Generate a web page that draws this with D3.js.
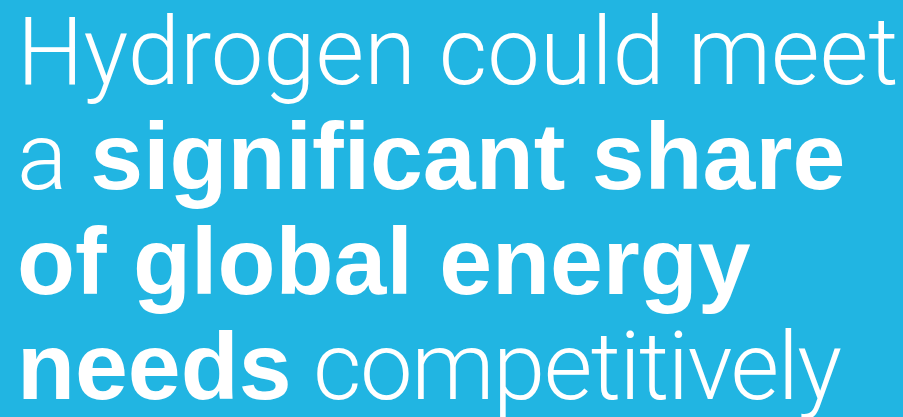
<!DOCTYPE html>
<html><head><meta charset="utf-8">
<script src="https://cdn.jsdelivr.net/npm/d3@7"></script>
<style>html,body{margin:0;padding:0;background:#21b5e2;overflow:hidden}</style>
</head><body>
<script>
const lineTexts = [
  [["Hydrogen could meet", "light"]],
  [["a ", "light"], ["significant share", "bold"]],
  [["of global energy", "bold"]],
  [["needs", "bold"], [" competitively", "light"]]
];
const lineIndex = [0, 1, 2, 3];

const W = 903, H = 417;
const svg = d3.select("body").append("svg").attr("width", W).attr("height", H);
svg.append("rect").attr("width", W).attr("height", H).attr("fill", "#21b5e2");

const y = d3.scalePoint().domain(lineIndex).range([84, 399]);

const t = svg.selectAll("text.line").data(lineTexts).join("text")
  .attr("class", "line")
  .attr("x", 17)
  .attr("y", (d, i) => y(i))
  .attr("fill", "#ffffff")
  .style("font-variant-ligatures", "none")
  .style("font-size", "94px");
t.each(function(d, li) {
  d3.select(this).selectAll("tspan").data(d).join("tspan")
    .attr("xml:space", "preserve")
    .style("white-space", "pre")
    .style("font-family", s => s[1] === "bold" ? "'Liberation Sans', Arial, sans-serif" : "Roboto, sans-serif")
    .style("font-size", s => s[1] === "bold" ? "95px" : "94px")
    .style("font-weight", s => s[1] === "bold" ? 700 : 300)
    .style("letter-spacing", (s, si) => (li === 3 && si === 1) ? "-1.5px" : null)
    .text(s => s[0]);
});
</script>
</body></html>
